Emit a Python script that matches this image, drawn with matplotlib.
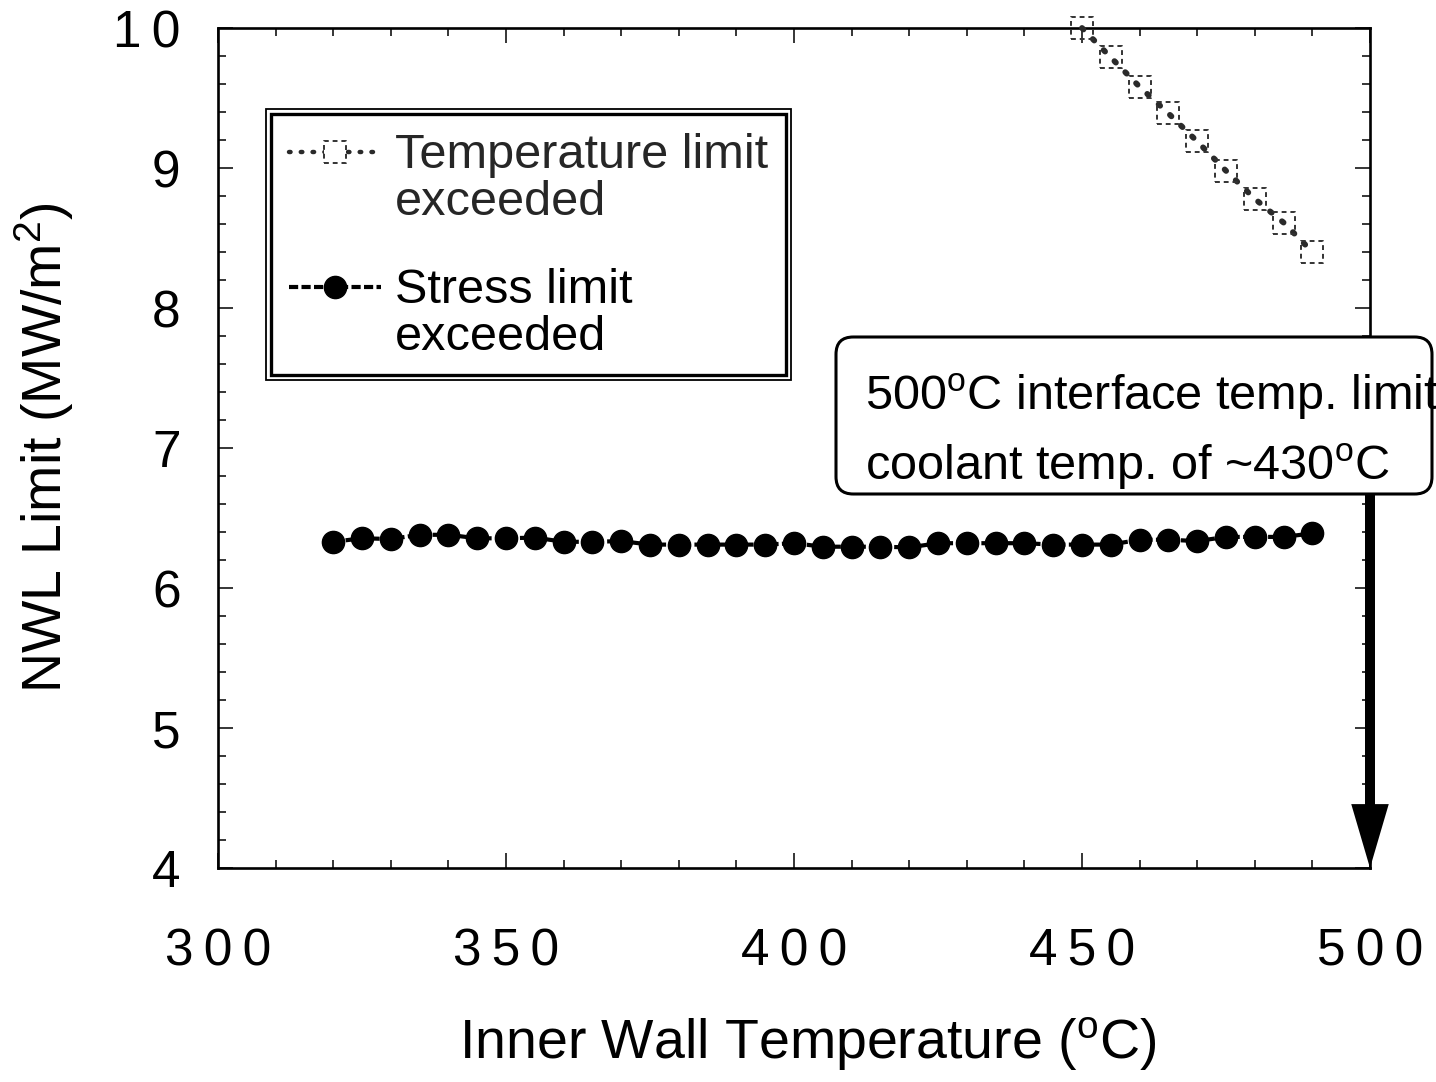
import matplotlib
matplotlib.use("Agg")
import matplotlib.pyplot as plt
from matplotlib.patches import Rectangle, FancyBboxPatch
from matplotlib.lines import Line2D
from matplotlib.ticker import MultipleLocator, FuncFormatter

plt.rcParams['font.family'] = ['Liberation Sans', 'DejaVu Sans']
plt.rcParams['mathtext.fontset'] = 'custom'
plt.rcParams['mathtext.rm'] = 'Liberation Sans'
plt.rcParams['mathtext.it'] = 'Liberation Sans:italic'
plt.rcParams['mathtext.bf'] = 'Liberation Sans:bold'
plt.rcParams['mathtext.default'] = 'regular'

# Stress-limited neutron wall load vs inner wall temperature
stress_T = [320, 325, 330, 335, 340, 345, 350, 355, 360, 365, 370, 375,
            380, 385, 390, 395, 400, 405, 410, 415, 420, 425, 430, 435,
            440, 445, 450, 455, 460, 465, 470, 475, 480, 485, 490]
stress_nwl = [6.33, 6.355, 6.35, 6.38, 6.38, 6.355, 6.355, 6.36, 6.33, 6.33,
              6.335, 6.31, 6.31, 6.31, 6.31, 6.31, 6.32, 6.295, 6.295, 6.295,
              6.29, 6.32, 6.32, 6.32, 6.32, 6.31, 6.31, 6.31, 6.345, 6.345,
              6.335, 6.365, 6.365, 6.365, 6.39]

# Temperature-limited neutron wall load
temp_T = [450, 455, 460, 465, 470, 475, 480, 485, 490]
temp_nwl = [10.0, 9.79, 9.58, 9.39, 9.19, 8.98, 8.78, 8.61, 8.40]

legend_labels = [("Temperature limit", "exceeded"), ("Stress limit", "exceeded")]
box_lines = ["500$^{o}$C interface temp. limit", "coolant temp. of ~430$^{o}$C"]
limit_T = 500

W, H = 1436, 1082
fig = plt.figure(figsize=(W / 100, H / 100), dpi=100)
ax = fig.add_axes([218 / W, 1 - 868 / H, 1152 / W, 840 / H])
ax.set_xlim(300, 500)
ax.set_ylim(4, 10)

temp_color = '#2a2a2a'
temp_ls = (0, (0.35, 2.3))
ax.plot(temp_T, temp_nwl, color=temp_color, lw=4.2,
        linestyle=temp_ls, dash_capstyle='round', zorder=3, clip_on=False)
ax.scatter(temp_T, temp_nwl, s=250, marker='s', facecolors='none',
           edgecolors='#333333', linewidths=1.4, linestyles=(0, (2.5, 2.0)),
           zorder=3, clip_on=False)

ax.plot(stress_T, stress_nwl, color='black', lw=3, linestyle=(0, (2.2, 0.8)),
        marker='o', markersize=16, markerfacecolor='black',
        markeredgecolor='black', zorder=3)

# axes styling
for sp in ax.spines.values():
    sp.set_linewidth(1.9)
ax.xaxis.set_major_locator(MultipleLocator(50))
ax.xaxis.set_minor_locator(MultipleLocator(10))
ax.yaxis.set_major_locator(MultipleLocator(1))
ax.yaxis.set_minor_locator(MultipleLocator(0.2))
ax.tick_params(which='both', direction='in', top=True, right=True, width=1.1)
ax.tick_params(which='major', length=11)
ax.tick_params(which='minor', length=5.5)
ax.tick_params(axis='x', which='major', labelsize=37, pad=43)
ax.tick_params(axis='y', which='major', labelsize=37, pad=27)

spaced = FuncFormatter(lambda v, p: '\u2009'.join(str(int(round(v)))))
ax.xaxis.set_major_formatter(spaced)
ax.yaxis.set_major_formatter(spaced)

ax.set_xlabel("Inner Wall Temperature ($^{o}$C)", fontsize=40)
ax.xaxis.set_label_coords(0.512, -0.176)
ax.set_ylabel("NWL Limit (MW/m$^{2}$)", fontsize=40)
ax.yaxis.set_label_coords(-0.123, 0.5)


# legend block in axes-fraction coordinates
def fx(px):
    return (px - 218) / 1152


def fy(py):
    return (868 - py) / 840


T = ax.transAxes
ax.add_patch(Rectangle((fx(266), fy(380)), fx(791) - fx(266), fy(109) - fy(380),
                       transform=T, facecolor='white', edgecolor='black',
                       lw=1.3, zorder=6, clip_on=False))
ax.add_patch(Rectangle((fx(271), fy(375)), fx(786) - fx(271), fy(114) - fy(375),
                       transform=T, facecolor='none', edgecolor='black',
                       lw=2.4, zorder=6, clip_on=False))

hx = [fx(289), fx(381)]
ax.add_line(Line2D(hx, [fy(152)] * 2, transform=T, color=temp_color, lw=3.2,
                   linestyle=temp_ls, dash_capstyle='round', zorder=7))
ax.scatter([fx(335)], [fy(152)], s=250, marker='s', transform=T,
           facecolors='white', edgecolors='#333333', linewidths=1.4,
           linestyles=(0, (2.5, 2.0)), zorder=7)
ax.add_line(Line2D(hx, [fy(287)] * 2, transform=T, color='black', lw=3,
                   linestyle=(0, (2.2, 0.8)), zorder=7))
ax.add_line(Line2D([fx(335)], [fy(287)], transform=T, marker='o', markersize=16,
                   color='black', zorder=7))

for (l1, l2), base1, col in zip(legend_labels, [168, 303], ['#262626', 'black']):
    ax.text(fx(395), fy(base1), l1, transform=T, fontsize=35, color=col,
            va='baseline', ha='left', zorder=8)
    ax.text(fx(395), fy(base1 + 47), l2, transform=T, fontsize=35, color=col,
            va='baseline', ha='left', zorder=8)

# callout box with arrow down to the 500 C limit
sx = 1152 / 200.0
sy = 840 / 6.0
box_x0, box_x1 = 300 + (836 - 218) / sx, 300 + (1432 - 218) / sx
box_y0, box_y1 = 4 + (868 - 494) / sy, 4 + (868 - 337) / sy
box = FancyBboxPatch((box_x0, box_y0), box_x1 - box_x0, box_y1 - box_y0,
                     boxstyle='round,pad=0,rounding_size=3.0',
                     mutation_aspect=sx / sy, facecolor='white',
                     edgecolor='black', lw=2.2, zorder=5, clip_on=False)
ax.add_patch(box)
for line, base in zip(box_lines, [410, 480]):
    t = ax.text(300 + (865 - 218) / sx, 4 + (868 - base) / sy, line,
                fontsize=35, va='baseline', ha='left', zorder=6)
    t.set_clip_on(True)
    t.set_clip_box(fig.bbox)
    t.set_clip_path(box)

ax.annotate('', xy=(limit_T, 4.0), xytext=(limit_T, box_y0),
            arrowprops=dict(arrowstyle='simple,head_length=4.6,head_width=2.7,tail_width=0.72',
                            mutation_scale=10, color='black', lw=0,
                            shrinkA=0, shrinkB=0),
            annotation_clip=False, zorder=4)

fig.savefig('out.png', dpi=100)
